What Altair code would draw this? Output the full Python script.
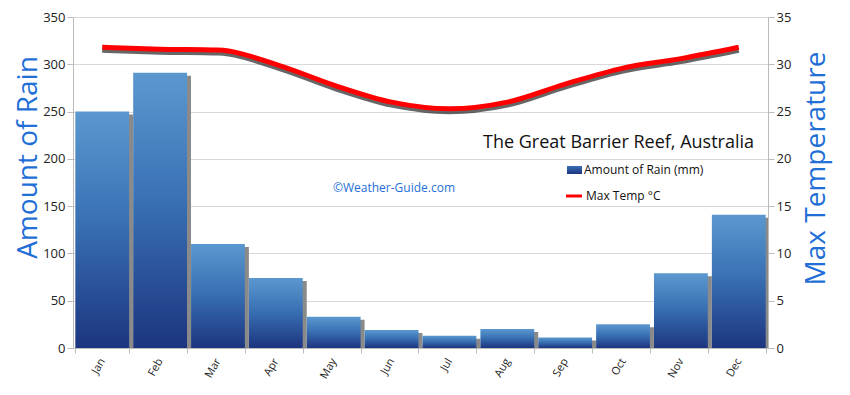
import altair as alt
import pandas as pd

months = ["Jan", "Feb", "Mar", "Apr", "May", "Jun", "Jul", "Aug", "Sep", "Oct", "Nov", "Dec"]
rain_mm = [250, 291, 110, 74, 33, 19, 13, 20, 11, 25, 79, 141]
max_temp = [31.8, 31.6, 31.5, 30.0, 27.8, 26.0, 25.3, 26.0, 27.9, 29.6, 30.6, 31.8]

df = pd.DataFrame({"month": months, "rain": rain_mm, "temp": max_temp})
one = pd.DataFrame({"k": [0]})

FONT = "Open Sans"
BLUE_T = "#1f6fd6"

xenc = alt.X("month:N", sort=months, title=None,
             scale=alt.Scale(paddingInner=0.07, paddingOuter=0.04),
             axis=alt.Axis(labelAngle=-60, labelAlign="right", labelBaseline="middle",
                           labelFontSize=11, labelColor="#222", labelFont=FONT,
                           tickBand="extent", tickColor="#bbb", tickSize=5,
                           domainColor="#bbb", labelPadding=6))

left_axis = alt.Axis(values=list(range(0, 351, 50)), grid=True, gridColor="#d8d8d8",
                     domainColor="#bbb", tickColor="#bbb", tickSize=6,
                     labelFontSize=13, labelColor="#222", labelFont=FONT,
                     title="Amount of Rain", titleFontSize=28, titleFont=FONT,
                     titleFontWeight="normal", titleColor=BLUE_T,
                     titleX=-45, titleY=140, titleAngle=-90,
                     titleAlign="center", titleBaseline="middle")
right_axis = alt.Axis(values=list(range(0, 36, 5)), grid=False, orient="right",
                      domainColor="#bbb", tickColor="#bbb", tickSize=6,
                      labelFontSize=13, labelColor="#222", labelFont=FONT,
                      title="Max Temperature", titleFontSize=28, titleFont=FONT,
                      titleFontWeight="normal", titleColor=BLUE_T,
                      titleX=48, titleY=151, titleAngle=-90,
                      titleAlign="center", titleBaseline="middle")

yrain = alt.Y("rain:Q", scale=alt.Scale(domain=[0, 350], nice=False), axis=left_axis)
ytemp = alt.Y("temp:Q", scale=alt.Scale(domain=[0, 35], nice=False), axis=right_axis)

grad = alt.Gradient(gradient="linear", x1=0, x2=0, y1=0, y2=1,
                    stops=[alt.GradientStop(color="#5b98cf", offset=0),
                           alt.GradientStop(color="#3a72b5", offset=0.45),
                           alt.GradientStop(color="#1c357f", offset=1)])

bar_shadow = alt.Chart(df).mark_bar(color="#8a8a8a", xOffset=4, yOffset=3, clip=True).encode(
    x=xenc, y=yrain)
bars = alt.Chart(df).mark_bar(color=grad).encode(x=xenc, y=yrain)

line_shadow = alt.Chart(df).mark_line(color="#333", strokeWidth=5, opacity=0.75,
                                      interpolate="monotone", yOffset=3).encode(x=xenc, y=ytemp)
line = alt.Chart(df).mark_line(color="#ff0000", strokeWidth=5,
                               interpolate="monotone").encode(x=xenc, y=ytemp)

title_txt = alt.Chart(one).mark_text(text="The Great Barrier Reef, Australia", align="right",
                                     baseline="middle", fontSize=18, font=FONT, color="#111").encode(
    x=alt.value(681), y=alt.value(126))
leg_rect = alt.Chart(one).mark_rect(color=alt.Gradient(gradient="linear", x1=0, x2=0, y1=0, y2=1,
                                    stops=[alt.GradientStop(color="#3a6fb5", offset=0),
                                           alt.GradientStop(color="#1c357f", offset=1)])).encode(
    x=alt.value(494), x2=alt.value(509), y=alt.value(149), y2=alt.value(157))
leg_txt1 = alt.Chart(one).mark_text(text="Amount of Rain (mm)", align="left", baseline="middle",
                                    fontSize=12, font=FONT, color="#111").encode(
    x=alt.value(511), y=alt.value(153))
leg_line = alt.Chart(one).mark_rule(color="#ff0000", strokeWidth=3).encode(
    x=alt.value(493), x2=alt.value(509), y=alt.value(179))
leg_txt2 = alt.Chart(one).mark_text(text="Max Temp °C", align="left", baseline="middle",
                                    fontSize=12, font=FONT, color="#111").encode(
    x=alt.value(513), y=alt.value(179))
credit = alt.Chart(one).mark_text(text="©Weather-Guide.com", align="center", baseline="middle",
                                  fontSize=12, font=FONT, color=BLUE_T).encode(
    x=alt.value(321), y=alt.value(171))

rain_layer = alt.layer(bar_shadow, bars, title_txt, leg_rect, leg_txt1, leg_line, leg_txt2, credit)
temp_layer = alt.layer(line_shadow, line)

chart = alt.layer(rain_layer, temp_layer).resolve_scale(y="independent").properties(
    width=695, height=331,
    autosize=alt.AutoSizeParams(type="none"),
    padding={"left": 65, "top": 9, "right": 72, "bottom": 39},
    background="white",
).configure_view(stroke=None)

chart.save("out.html", embed_options={"renderer": "svg", "actions": False})
